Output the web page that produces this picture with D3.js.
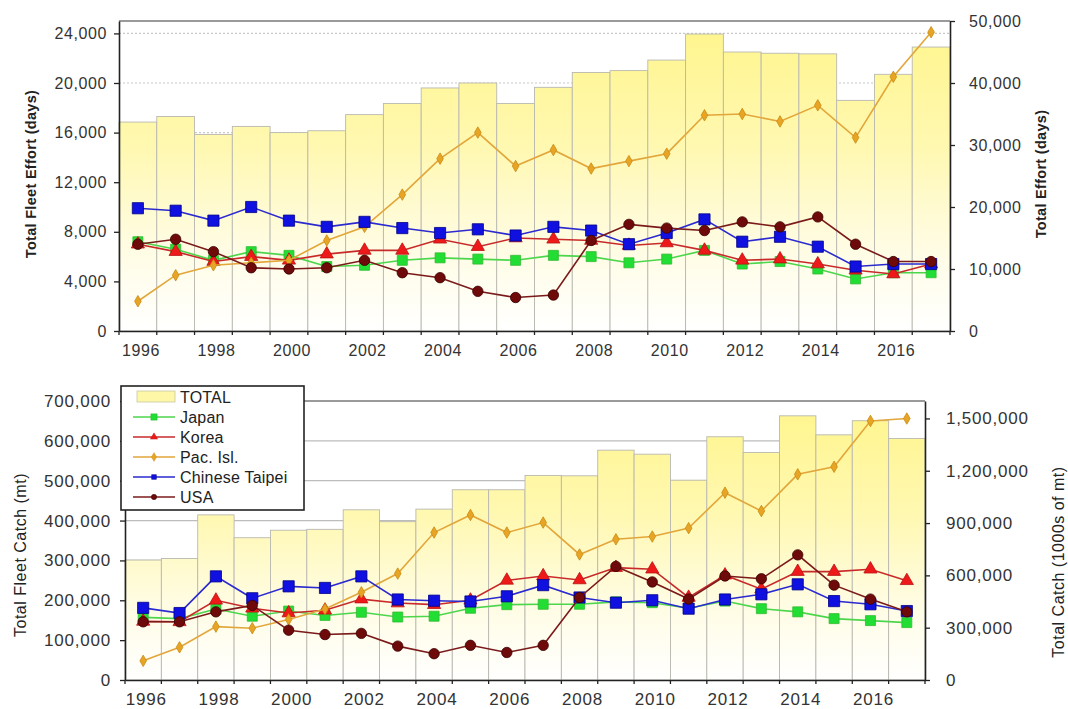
<!DOCTYPE html>
<html><head><meta charset="utf-8">
<script src="https://cdn.jsdelivr.net/npm/d3@7/dist/d3.min.js"></script>
<style>
body{margin:0;background:#fff;}
svg text{font-family:"Liberation Sans",Arial,sans-serif;}
</style>
</head><body>
<svg id="c" width="1068" height="709"></svg>
<script>
// ---------- DATA ----------
const years = [1996,1997,1998,1999,2000,2001,2002,2003,2004,2005,2006,2007,2008,2009,2010,2011,2012,2013,2014,2015,2016,2017];
const yearLabels = [1996,1998,2000,2002,2004,2006,2008,2010,2012,2014,2016];

// Effort (days)
const effortTotal  = [33700,34600,31700,33000,32000,32300,34900,36700,39200,40000,36700,39300,41700,42000,43700,47900,45000,44800,44700,37200,41400,45800];
const effortJapan  = [7200,6600,5700,6400,6100,5200,5300,5700,5900,5800,5700,6100,6000,5500,5800,6500,5400,5600,5000,4200,4700,4700];
const effortKorea  = [7000,6400,5600,6000,5700,6200,6500,6500,7400,6800,7500,7400,7300,6900,7100,6500,5700,5800,5400,4900,4600,5400];
const effortPac    = [2400,4500,5300,5500,5700,7300,8400,11000,13900,16000,13300,14600,13100,13700,14300,17400,17500,16900,18200,15600,20500,24100];
const effortCT     = [9900,9700,8900,10000,8900,8400,8800,8300,7900,8200,7700,8400,8100,7000,7900,9000,7200,7600,6800,5200,5400,5400];
const effortUSA    = [7000,7400,6400,5100,5000,5100,5700,4700,4300,3200,2700,2900,7300,8600,8300,8100,8800,8400,9200,7000,5600,5600];

// Catch (mt)
const catchTotal = [688000,697000,947000,816000,859000,864000,976000,908000,980000,1091000,1091000,1173000,1171000,1318000,1295000,1146000,1395000,1305000,1515000,1406000,1487000,1385000];
const catchJapan = [157000,154000,178000,160000,173000,162000,170000,158000,160000,180000,189000,190000,190000,196000,194000,180000,198000,179000,171000,154000,149000,144000];
const catchKorea = [147000,146000,200000,180000,168000,175000,203000,193000,189000,200000,250000,261000,251000,282000,278000,207000,263000,228000,272000,272000,278000,249000];
const catchPac   = [48000,82000,134000,130000,152000,178000,220000,267000,370000,414000,370000,395000,315000,353000,360000,381000,470000,424000,516000,535000,650000,656000];
const catchCT    = [181000,168000,260000,205000,235000,231000,260000,202000,199000,197000,210000,238000,207000,194000,200000,179000,202000,215000,240000,198000,190000,173000];
const catchUSA   = [146000,146000,171000,187000,125000,114000,117000,85000,66000,87000,69000,87000,207000,285000,246000,203000,261000,254000,314000,238000,203000,171000];

const effortLeftTicks  = [0,4000,8000,12000,16000,20000,24000];
const effortRightTicks = [0,10000,20000,30000,40000,50000];
const catchLeftTicks   = [0,100000,200000,300000,400000,500000,600000,700000];
const catchRightTicks  = [0,300000,600000,900000,1200000,1500000];

const seriesNames = ["Japan","Korea","Pac. Isl.","Chinese Taipei","USA"];
const seriesStyle = {
  "Japan":          {line:"#4cd64c", fill:"#22dd33", stroke:"#33bb33", sym:d3.symbolSquare,   size:100},
  "Korea":          {line:"#c82a2a", fill:"#ee1a1a", stroke:"#bb1111", sym:d3.symbolTriangle, size:75},
  "Pac. Isl.":      {line:"#e2a63a", fill:"#e8a525", stroke:"#c98a10", sym:d3.symbolDiamond,  size:38},
  "Chinese Taipei": {line:"#2a2ad0", fill:"#1010e0", stroke:"#00008a", sym:d3.symbolSquare,   size:125},
  "USA":            {line:"#7a1a1a", fill:"#6e0a0a", stroke:"#3a0000", sym:d3.symbolCircle,   size:85}
};

const svg = d3.select("#c");
const defs = svg.append("defs");

function panel(o){
  const g = svg.append("g");
  const x = d3.scaleBand().domain(years).range([o.left,o.right]).padding(0);
  const bw = x.bandwidth();
  const yL = d3.scaleLinear().domain([0,o.leftMax]).range([o.bottom,o.top]);
  const yR = d3.scaleLinear().domain([0,o.rightMax]).range([o.bottom,o.top]);

  const gid = "grad" + o.id;
  const gr = defs.append("linearGradient").attr("id",gid)
    .attr("gradientUnits","userSpaceOnUse")
    .attr("x1",0).attr("x2",0).attr("y1",o.top).attr("y2",o.bottom);
  gr.append("stop").attr("offset","0%").attr("stop-color","#fff58c");
  gr.append("stop").attr("offset","40%").attr("stop-color","#fff8b0");
  gr.append("stop").attr("offset","72%").attr("stop-color","#fffce2");
  gr.append("stop").attr("offset","100%").attr("stop-color","#ffffff");

  // gridlines
  g.append("g").selectAll("line").data(o.leftTicks.filter(t=>t>0)).join("line")
    .attr("x1",o.left).attr("x2",o.right)
    .attr("y1",d=>yL(d)).attr("y2",d=>yL(d))
    .attr("stroke",o.gridColor).attr("stroke-width",1.2)
    .attr("stroke-dasharray",o.gridDash);
  // top frame
  g.append("line").attr("x1",o.left).attr("x2",o.right).attr("y1",o.top).attr("y2",o.top)
    .attr("stroke","#9a9a9a").attr("stroke-width",2);

  // bars
  g.append("g").selectAll("rect").data(years).join("rect")
    .attr("x",d=>x(d)).attr("width",bw)
    .attr("y",(d,i)=>yR(o.total[i]))
    .attr("height",(d,i)=>o.bottom - yR(o.total[i]))
    .attr("fill",`url(#${gid})`).attr("stroke","#b8b8b0").attr("stroke-width",0.9);

  // series
  seriesNames.forEach((name,k)=>{
    const vals = o.series[k];
    const st = seriesStyle[name];
    const line = d3.line().x((d,i)=>x(years[i])+bw/2).y(d=>yL(d));
    g.append("path").datum(vals).attr("d",line).attr("fill","none")
      .attr("stroke",st.line).attr("stroke-width",1.6);
    g.append("g").selectAll("path").data(vals).join("path")
      .attr("transform",(d,i)=>`translate(${x(years[i])+bw/2},${yL(d)})`)
      .attr("d",d3.symbol().type(st.sym).size(st.size))
      .attr("fill",st.fill).attr("stroke",st.stroke).attr("stroke-width",0.8);
  });

  // left axis
  const la = g.append("g").attr("transform",`translate(${o.left},0)`)
    .call(d3.axisLeft(yL).tickValues(o.leftTicks).tickFormat(d3.format(",")).tickSize(5).tickSizeOuter(0).tickPadding(o.lpad));
  // right axis
  const ra = g.append("g").attr("transform",`translate(${o.right},0)`)
    .call(d3.axisRight(yR).tickValues(o.rightTicks).tickFormat(d3.format(",")).tickSize(5).tickSizeOuter(0).tickPadding(o.rpad));
  // bottom axis
  const ba = g.append("g").attr("transform",`translate(0,${o.bottom})`)
    .call(d3.axisBottom(x).tickValues(yearLabels).tickSize(0).tickSizeOuter(0).tickPadding(o.bpad));
  ba.selectAll(".tick text").attr("dx",3);
  g.append("g").selectAll("line").data(years.concat(["end"])).join("line")
    .attr("x1",d=>d==="end"?o.right:x(d)).attr("x2",d=>d==="end"?o.right:x(d))
    .attr("y1",o.bottom).attr("y2",o.bottom+4)
    .attr("stroke","#222").attr("stroke-width",1.3);

  [la,ra,ba].forEach(a=>{
    a.select(".domain").attr("stroke","#222").attr("stroke-width",1.6);
    a.selectAll(".tick line").attr("stroke","#222").attr("stroke-width",1.3);
    a.selectAll(".tick text").attr("fill","#333").style("font-size",o.tickFont+"px")
      .style("letter-spacing",o.tickLS+"px");
  });

  // axis titles
  g.append("text").attr("transform",`translate(${o.ltX},${o.ltY}) rotate(-90)`)
    .attr("text-anchor","middle").attr("fill","#222")
    .style("font-size",o.titleFont+"px").style("font-weight",o.titleWeight)
    .style("letter-spacing",o.titleLS+"px").text(o.leftTitle);
  g.append("text").attr("transform",`translate(${o.rtX},${o.rtY}) rotate(-90)`)
    .attr("text-anchor","middle").attr("fill","#222")
    .style("font-size",o.titleFont+"px").style("font-weight",o.titleWeight)
    .style("letter-spacing",o.titleLS+"px").text(o.rightTitle);
  return g;
}

panel({id:"e", left:119, right:950, top:21, bottom:331,
  leftMax:25000, rightMax:50000, leftTicks:effortLeftTicks, rightTicks:effortRightTicks,
  total:effortTotal, series:[effortJapan,effortKorea,effortPac,effortCT,effortUSA],
  gridColor:"#c8c8c8", gridDash:"2,2", lpad:7, rpad:14, bpad:14,
  tickFont:16, tickLS:0.6,
  leftTitle:"Total Fleet Effort (days)", rightTitle:"Total Effort (days)",
  ltX:36, ltY:174, rtX:1046, rtY:174, titleFont:14.5, titleWeight:"bold", titleLS:0.3});

panel({id:"c", left:125, right:925, top:401, bottom:680,
  leftMax:700000, rightMax:1600000, leftTicks:catchLeftTicks, rightTicks:catchRightTicks,
  total:catchTotal, series:[catchJapan,catchKorea,catchPac,catchCT,catchUSA],
  gridColor:"#bdbdbd", gridDash:null, lpad:9, rpad:16, bpad:13,
  tickFont:17, tickLS:0.8,
  leftTitle:"Total Fleet Catch (mt)", rightTitle:"Total Catch (1000s of mt)",
  ltX:26, ltY:555, rtX:1064, rtY:562, titleFont:16, titleWeight:"normal", titleLS:0.5});

// legend
const lg = svg.append("g").attr("transform","translate(121,386)");
lg.append("rect").attr("x",0).attr("y",0).attr("width",183).attr("height",124)
  .attr("fill","#fff").attr("stroke","#222").attr("stroke-width",1.6);
const legItems = ["TOTAL"].concat(seriesNames);
legItems.forEach((name,i)=>{
  const yy = 11 + i*20;
  const it = lg.append("g").attr("transform",`translate(0,${yy})`);
  if(name==="TOTAL"){
    it.append("rect").attr("x",16).attr("y",-6).attr("width",38).attr("height",11)
      .attr("fill","#fff7a8").attr("stroke","#c8c8a0").attr("stroke-width",0.8);
  } else {
    const st = seriesStyle[name];
    it.append("line").attr("x1",12).attr("x2",54).attr("y1",0).attr("y2",0)
      .attr("stroke",st.line).attr("stroke-width",1.5);
    it.append("path").attr("transform","translate(33,0)")
      .attr("d",d3.symbol().type(st.sym).size(name==="Japan"?40:22))
      .attr("fill",st.fill).attr("stroke",st.stroke).attr("stroke-width",0.5);
  }
  it.append("text").attr("x",59).attr("y",6).attr("fill","#222")
    .style("font-size","16px").style("letter-spacing","0.2px").text(name);
});
</script>
</body></html>
